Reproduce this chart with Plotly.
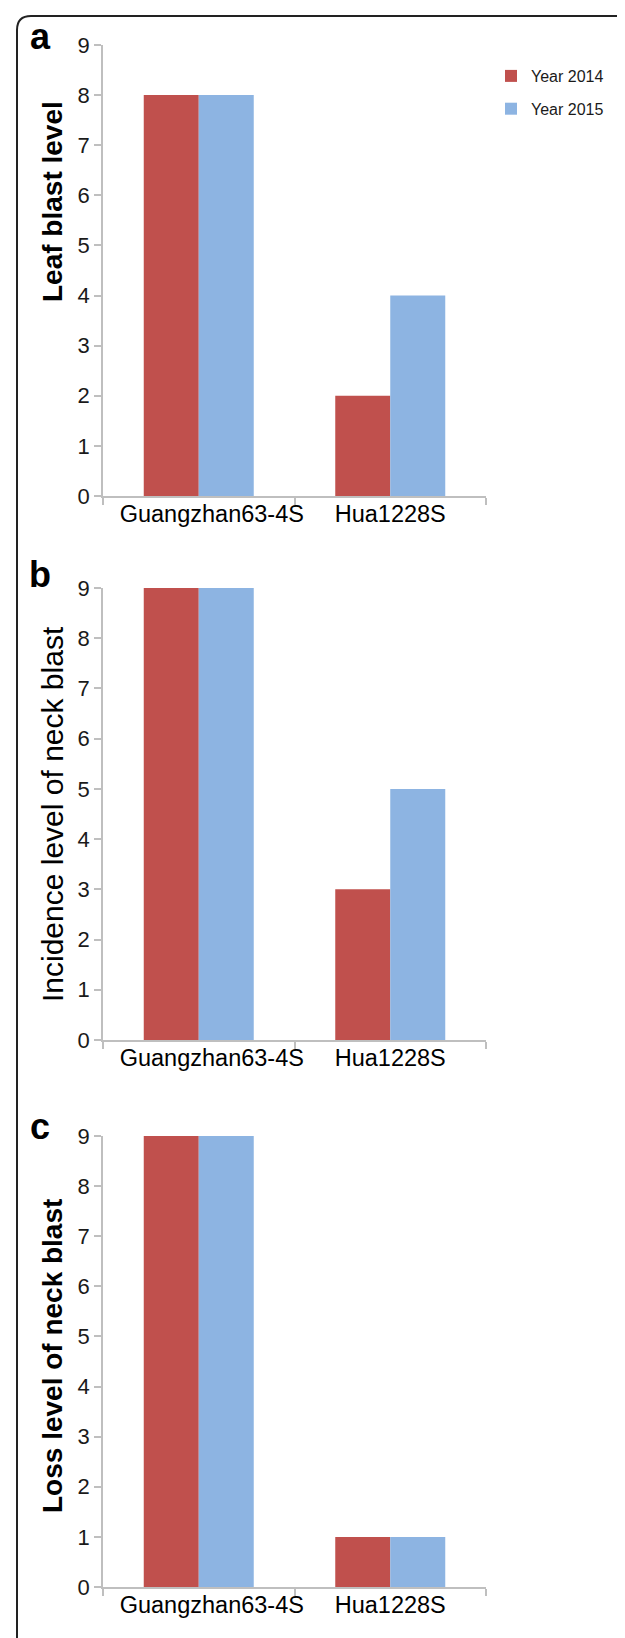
import plotly.graph_objects as go

# ---- data ----
categories = ["Guangzhan63-4S", "Hua1228S"]
series_names = ["Year 2014", "Year 2015"]
leaf_blast_2014 = [8, 2]
leaf_blast_2015 = [8, 4]
neck_incidence_2014 = [9, 3]
neck_incidence_2015 = [9, 5]
neck_loss_2014 = [9, 1]
neck_loss_2015 = [9, 1]
y_ticks = [0, 1, 2, 3, 4, 5, 6, 7, 8, 9]
panel_letters = ["a", "b", "c"]
y_titles = ["Leaf blast level", "Incidence level of neck blast", "Loss level of neck blast"]

W, H = 625, 1638
RED = "#C0504D"
BLUE = "#8DB4E2"
AXIS = "#BFBFBF"
FONT = "Liberation Sans, Arial, sans-serif"

def px(x):
    return x / W

def py(y):
    return 1 - y / H

panels = [
    (leaf_blast_2014, leaf_blast_2015, 37, 488),
    (neck_incidence_2014, neck_incidence_2015, 580, 1032),
    (neck_loss_2014, neck_loss_2015, 1128, 1579),
]

# category labels as displayed (first one sits a little right of its bar pair)
tick_text = ["\u00a0\u00a0\u00a0\u00a0" + categories[0], categories[1]]

fig = go.Figure()
layout = {}
for i, (s14, s15, top, bottom) in enumerate(panels):
    n = "" if i == 0 else str(i + 1)
    xa, ya = "x" + n, "y" + n
    fig.add_trace(go.Bar(x=categories, y=s14, name=series_names[0], marker_color=RED,
                         marker_line_width=0, xaxis=xa, yaxis=ya,
                         legendgroup="g14", showlegend=(i == 0)))
    fig.add_trace(go.Bar(x=categories, y=s15, name=series_names[1], marker_color=BLUE,
                         marker_line_width=0, xaxis=xa, yaxis=ya,
                         legendgroup="g15", showlegend=(i == 0)))
    layout["xaxis" + n] = dict(
        domain=[px(95), px(478)], anchor=ya, type="category", range=[-0.5, 1.5],
        tickmode="array", tickvals=categories, ticktext=tick_text,
        showline=True, linecolor=AXIS, linewidth=1.5, ticks="outside", tickson="boundaries",
        ticklen=7, tickcolor=AXIS, tickwidth=1.5, showgrid=False, zeroline=False,
        tickangle=0, automargin=False,
        tickfont=dict(family=FONT, size=23.5, color="#000000"), ticklabelstandoff=-4,
        fixedrange=True,
    )
    layout["yaxis" + n] = dict(
        domain=[py(bottom), py(top)], anchor=xa, range=[0, 9], tickvals=y_ticks,
        showline=True, linecolor=AXIS, linewidth=1.5, ticks="outside", ticklen=7,
        tickcolor=AXIS, tickwidth=1.5, showgrid=False, zeroline=False, automargin=False,
        tickfont=dict(family=FONT, size=22, color="#1a1a1a"), fixedrange=True,
    )

fig.update_layout(**layout)

annotations = []
letter_y = [28, 566, 1118]
title_y = [194, 806, 1348]
title_bold = [True, False, True]
title_size = [28, 30, 28]
for i in range(3):
    annotations.append(dict(
        text="<b>%s</b>" % panel_letters[i], x=px(32), y=py(letter_y[i]),
        xref="paper", yref="paper", xanchor="center", yanchor="middle", showarrow=False,
        font=dict(family=FONT, size=36, color="#000000")))
    t = y_titles[i]
    annotations.append(dict(
        text=("<b>%s</b>" % t) if title_bold[i] else t, x=px(44), y=py(title_y[i]),
        xref="paper", yref="paper", xanchor="center", yanchor="middle", textangle=-90,
        showarrow=False, font=dict(family=FONT, size=title_size[i], color="#000000")))

border_path = "M %f %f L %f %f Q %f %f %f %f L %f %f" % (
    px(9), py(H + 5), px(9), py(22), px(9), py(8), px(23), py(8), px(W + 5), py(8))

fig.update_layout(
    template="none",
    width=W, height=H, margin=dict(l=0, r=0, t=0, b=0, autoexpand=False),
    paper_bgcolor="white", plot_bgcolor="white",
    barmode="group", bargap=0.4256, bargroupgap=0,
    showlegend=True,
    legend=dict(x=px(483), y=py(51), xanchor="left", yanchor="top",
                font=dict(family=FONT, size=16, color="#1a1a1a"),
                bgcolor="rgba(0,0,0,0)", traceorder="grouped", tracegroupgap=9,
                itemwidth=30),
    annotations=annotations,
    shapes=[dict(type="path", path=border_path, xref="paper", yref="paper",
                 line=dict(color="#222222", width=2))],
)

fig.write_html("out.html")
